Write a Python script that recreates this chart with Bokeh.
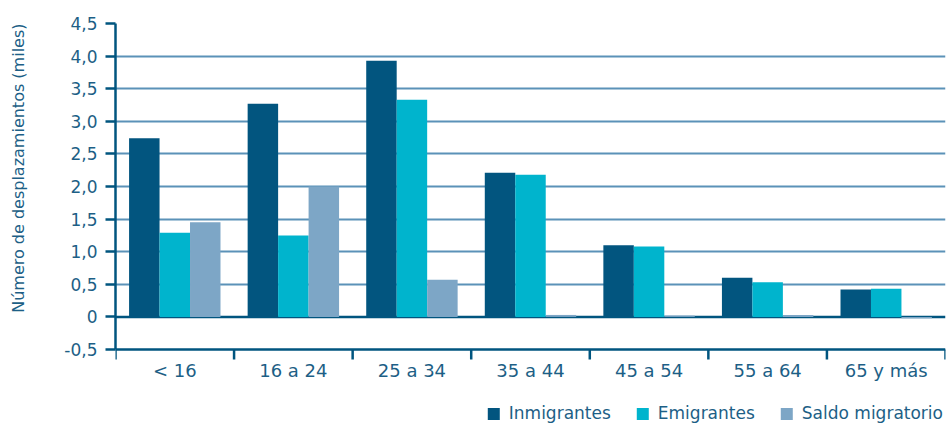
from bokeh.plotting import figure
from bokeh.models import FixedTicker, Span, Legend, LegendItem, Title
from bokeh.core.properties import value
from bokeh.embed import file_html
from bokeh.resources import INLINE

categories = ["< 16", "16 a 24", "25 a 34", "35 a 44", "45 a 54", "55 a 64", "65 y más"]
inmigrantes = [2.74, 3.27, 3.93, 2.21, 1.10, 0.60, 0.42]
emigrantes = [1.29, 1.25, 3.33, 2.18, 1.08, 0.53, 0.43]
saldo = [1.45, 2.00, 0.57, 0.03, 0.02, 0.03, -0.02]
series_names = ["Inmigrantes", "Emigrantes", "Saldo migratorio"]
y_ticks = [-0.5, 0, 0.5, 1.0, 1.5, 2.0, 2.5, 3.0, 3.5, 4.0, 4.5]
y_tick_labels = ["-0,5", "0", "0,5", "1,0", "1,5", "2,0", "2,5", "3,0", "3,5", "4,0", "4,5"]
y_title = "Número de desplazamientos (miles)"

FONT = "DejaVu Sans"
TEXT = "#1d5f86"
AXIS = "#00557f"
COLORS = ["#02557f", "#00b4cd", "#7da6c6"]

Y_MIN, Y_MAX = -0.5, 4.5
AXIS_PX = 326                     # pixel height of the value range
PX_PER_UNIT = AXIS_PX / (Y_MAX - Y_MIN)
BOTTOM_PX = 76                    # room below the axis for labels and legend
Y_START = Y_MIN - BOTTOM_PX / PX_PER_UNIT
TICK_LEN = 10 / PX_PER_UNIT

p = figure(frame_width=830, frame_height=AXIS_PX + BOTTOM_PX,
           x_range=(0, len(categories)), y_range=(Y_START, Y_MAX),
           x_axis_location=None,
           output_backend="svg", toolbar_location=None,
           min_border_left=115, min_border_right=2, min_border_top=23, min_border_bottom=0)
p.outline_line_color = None
p.background_fill_color = "white"
for g in p.xgrid:
    g.visible = False

# grid
p.ygrid.ticker = FixedTicker(ticks=[t for t in y_ticks if t > 0])
p.ygrid.grid_line_color = "#5b92b8"
p.ygrid.grid_line_width = 2

zero = Span(location=0, dimension="width", line_color=AXIS, line_width=2.5, level="underlay")
p.add_layout(zero)

# bars
bw = 0.257
offsets = [-bw, 0.0, bw]
renderers = []
for vals, off, col in zip([inmigrantes, emigrantes, saldo], offsets, COLORS):
    xs = [i + 0.5 + off for i in range(len(categories))]
    r = p.vbar(x=xs, top=vals, bottom=0, width=bw, fill_color=col, line_color=None)
    renderers.append(r)

# category axis (line at -0.5, boundary ticks, centred labels)
xaxis_line = Span(location=Y_MIN, dimension="width", line_color=AXIS, line_width=2.5)
p.add_layout(xaxis_line)
bounds = list(range(len(categories) + 1))
p.segment(x0=bounds, y0=Y_MIN, x1=bounds, y1=Y_MIN - TICK_LEN, line_color=AXIS, line_width=2.5)
centers = [i + 0.5 for i in range(len(categories))]
p.text(x=centers, y=Y_MIN, text=categories, y_offset=21,
       text_align="center", text_baseline="middle",
       text_font=value(FONT), text_font_size="18px", text_color=TEXT)

# y axis
ya = p.yaxis[0]
ya.bounds = (Y_MIN, Y_MAX)
ya.ticker = FixedTicker(ticks=y_ticks, minor_ticks=[])
ya.major_label_overrides = {t: l for t, l in zip(y_ticks, y_tick_labels)}
ya.axis_line_color = AXIS
ya.axis_line_width = 2.5
ya.major_tick_line_color = AXIS
ya.major_tick_line_width = 2.5
ya.major_tick_out = 10
ya.major_tick_in = 0
ya.major_label_standoff = 8
ya.major_label_text_font = FONT
ya.major_label_text_font_size = "17px"
ya.major_label_text_color = TEXT
ya.axis_label = " "
ya.axis_label_standoff = 12
ya.axis_label_text_font = FONT
ya.axis_label_text_font_size = "16px"

# y title, its end aligned with the top of the value range
p.add_layout(Title(text=y_title, align="right", offset=0, standoff=0,
                   text_font=FONT, text_font_size="16px", text_font_style="normal",
                   text_color=TEXT), "left")

legend = Legend(items=[LegendItem(label=n, renderers=[r]) for n, r in zip(series_names, renderers)],
                location="bottom_right", orientation="horizontal",
                glyph_width=15, glyph_height=15, label_standoff=8, spacing=24,
                padding=0, margin=2, border_line_color=None, background_fill_alpha=0,
                label_text_font=FONT, label_text_font_size="17px", label_text_color=TEXT,
                label_height=15)
p.add_layout(legend, "center")

open("out.html", "w").write(file_html(p, INLINE))
